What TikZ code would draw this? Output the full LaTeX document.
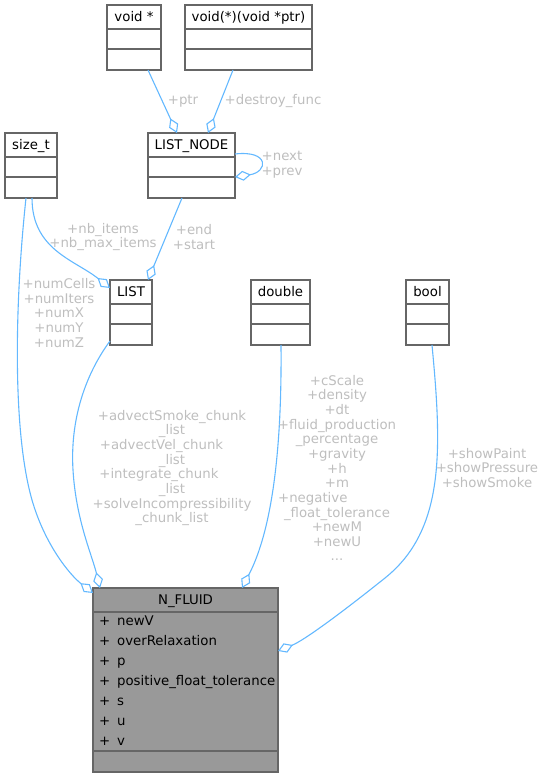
\documentclass[tikz,border=0pt]{standalone}
\usepackage{fontspec}
\setmainfont{DejaVu Sans}
\usetikzlibrary{calc,arrows.meta}
\definecolor{dxframe}{HTML}{666666}
\definecolor{dxfill}{HTML}{999999}
\definecolor{dxedge}{HTML}{63B8FF}
\definecolor{dxlabel}{HTML}{BEBEBE}

% class box: fill, name, left, top, width, height, title
\newcommand{\typebox}[7][white]{%
  \node[umlframe, fill=#1, minimum width=#5pt, minimum height=#6pt] (#2) at (#3,-#4) {};
  \node[anchor=base] (#2-title) at ($(#2.north west)+(#5/2,-16.8)$) {#7};
  \draw[umlline] ($(#2.north west)+(0,-24)$) -- ++(#5,0);
  \draw[umlline] ($(#2.south west)+(0,21)$) -- ++(#5,0);
}

\begin{document}
\begin{tikzpicture}[x=1pt, y=1pt,
    every node/.style={font=\fontsize{13.3}{14.65}\selectfont, inner sep=0pt, outer sep=0pt},
    umlframe/.style={draw=dxframe, line width=1.2pt, anchor=north west},
    umlline/.style={draw=dxframe, line width=1.2pt},
    assoc/.style={draw=dxedge, line width=1.1pt, -{Diamond[open, length=16pt, width=10pt]}},
    lbl/.style={text=dxlabel, align=center}]
  \useasboundingbox (0,0) rectangle (542,-779);

  % types
  \typebox{voidp}{107}{5}{54}{65}{void *}
  \typebox{voidfn}{185}{5}{127}{65}{void(*)(void *ptr)}
  \typebox{sizet}{5}{133}{52}{65}{size\_t}
  \typebox{listnode}{148}{133}{87}{65}{LIST\_NODE}
  \typebox{list}{110}{280}{42}{65}{LIST}
  \typebox{dbl}{251}{280}{59}{65}{double}
  \typebox{boolt}{406}{280}{43}{65}{bool}
  \typebox[dxfill]{nfluid}{93}{588}{185}{184}{N\_FLUID}

  \foreach \attr [count=\i from 0] in {newV,overRelaxation,p,positive\_float\_tolerance,s,u,v}
    \node[anchor=base west] (attr-\i) at ($(nfluid.north west)+(6,-37-20*\i)$) {+\hspace{7pt}\attr};

  % associations
  \draw[assoc] ($(voidp.south west)+(41,0)$) -- ($(listnode.north west)+(29,0)$);
  \draw[assoc] ($(voidfn.south west)+(48,0)$) -- ($(listnode.north west)+(60,0)$);
  \draw[assoc] ($(listnode.north east)+(0,-21)$) .. controls +(35,4) and +(33,5) .. ($(listnode.north east)+(0,-44)$);
  \draw[assoc] ($(sizet.south west)+(27,0)$) .. controls +(0,-52) and +(-35,28) .. ($(list.north west)+(0,-8)$);
  \draw[assoc] ($(listnode.south west)+(34,0)$) -- ($(list.north west)+(38,0)$);
  \draw[assoc] ($(sizet.south west)+(21,0)$) .. controls (15,-300) and (12,-430) .. (32,-500)
    .. controls (45,-545) and (70,-575) .. ($(nfluid.north west)+(0,-5)$);
  \draw[assoc] ($(list.south west)+(0,4)$) .. controls (85,-375) and (70,-420) .. (73,-470)
    .. controls (76,-520) and (92,-555) .. ($(nfluid.north west)+(7,0)$);
  \draw[assoc] ($(dbl.south west)+(30,0)$) .. controls (282,-450) and (272,-530) .. ($(nfluid.north west)+(149,0)$);
  \draw[assoc] ($(boolt.south west)+(26,0)$) .. controls (442,-450) and (445,-530) .. (385,-578)
    .. controls (345,-610) and (305,-640) .. ($(nfluid.north east)+(0,-63)$);

  % member labels
  \node[lbl] (l-ptr) at (183,-101.5) {+ptr};
  \node[lbl] (l-destroy) at (273,-101.5) {+destroy\_func};
  \node[lbl] (l-link) at (282,-165) {+next\\+prev};
  \node[lbl] (l-count) at (103,-237) {+nb\_items\\+nb\_max\_items};
  \node[lbl] (l-ends) at (194,-237) {+end\\+start};
  \node[lbl] (l-grid) at (59,-313) {+numCells\\+numIters\\+numX\\+numY\\+numZ};
  \node[lbl] (l-chunks) at (172,-468) {+advectSmoke\_chunk\\\_list\\+advectVel\_chunk\hphantom{\_lis}\\\_list\\+integrate\_chunk\hphantom{\_list}\\\_list\\+solveIncompressibility\\\_chunk\_list};
  \node[lbl] (l-values) at (337,-468) {+cScale\\+density\\+dt\\+fluid\_production\\\_percentage\\+gravity\\+h\\+m\\+negative\hphantom{\_float\_t}\\\_float\_tolerance\\+newM\\+newU\\...};
  \node[lbl] (l-flags) at (487,-468) {+showPaint\\+showPressure\\+showSmoke};
\end{tikzpicture}
\end{document}
